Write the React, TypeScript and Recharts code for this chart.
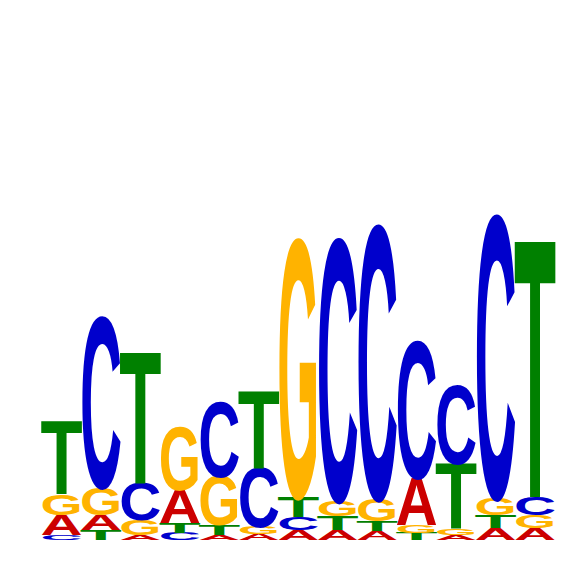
import React from "react";
import { BarChart, Bar, XAxis, YAxis } from "recharts";

// Sequence logo: information content (bits) of each base per position
const positions = ["1", "2", "3", "4", "5", "6", "7", "8", "9", "10", "11", "12", "13"];
const heightA = [0.078, 0.059, 0.02, 0.129, 0.02, 0.024, 0.039, 0.039, 0.035, 0.184, 0.02, 0.047, 0.047];
const heightC = [0.02, 0.66, 0.145, 0.027, 0.29, 0.231, 0.051, 1.015, 1.06, 0.53, 0.306, 1.095, 0.071];
const heightG = [0.082, 0.106, 0.059, 0.247, 0.188, 0.027, 1.0, 0.06, 0.086, 0.031, 0.024, 0.067, 0.051];
const heightT = [0.286, 0.039, 0.51, 0.039, 0.039, 0.298, 0.078, 0.055, 0.04, 0.027, 0.255, 0.051, 1.0];
const baseColors: Record<string, string> = {
  A: "#CC0000",
  C: "#0000CC",
  G: "#FFB300",
  T: "#008000",
};

const data = positions.map((p, i) => {
  const entries = [
    { b: "A", h: heightA[i] },
    { b: "C", h: heightC[i] },
    { b: "G", h: heightG[i] },
    { b: "T", h: heightT[i] },
  ].sort((a, b) => a.h - b.h);
  const row: any = { pos: p };
  entries.forEach((e, r) => {
    row[`h${r}`] = e.h;
    row[`l${r}`] = e.b;
  });
  return row;
});

const makeShape = (rank: number) => (props: any) => {
  const { x, y, width, height, payload } = props;
  if (!height || height <= 0) return <g />;
  const letter = payload[`l${rank}`];
  const capHeight = 0.688;
  const fontSize = height / capHeight;
  const extra = width * 0.04;
  return (
    <text
      x={x - extra}
      y={y + height}
      fontSize={fontSize}
      textLength={width + 2 * extra}
      lengthAdjust="spacingAndGlyphs"
      fontFamily="'Liberation Sans', Arial, sans-serif"
      fontWeight="bold"
      fill={baseColors[letter]}
    >
      {letter}
    </text>
  );
};

export default function App() {
  return (
    <BarChart
      width={566}
      height={566}
      data={data}
      margin={{ top: 22, right: 19, bottom: 34, left: 34 }}
      barCategoryGap={0}
      barGap={0}
    >
      <XAxis dataKey="pos" hide />
      <YAxis hide domain={[0, 2]} />
      {[0, 1, 2, 3].map((r) => (
        <Bar
          key={r}
          dataKey={`h${r}`}
          stackId="logo"
          isAnimationActive={false}
          shape={makeShape(r)}
        />
      ))}
    </BarChart>
  );
}
